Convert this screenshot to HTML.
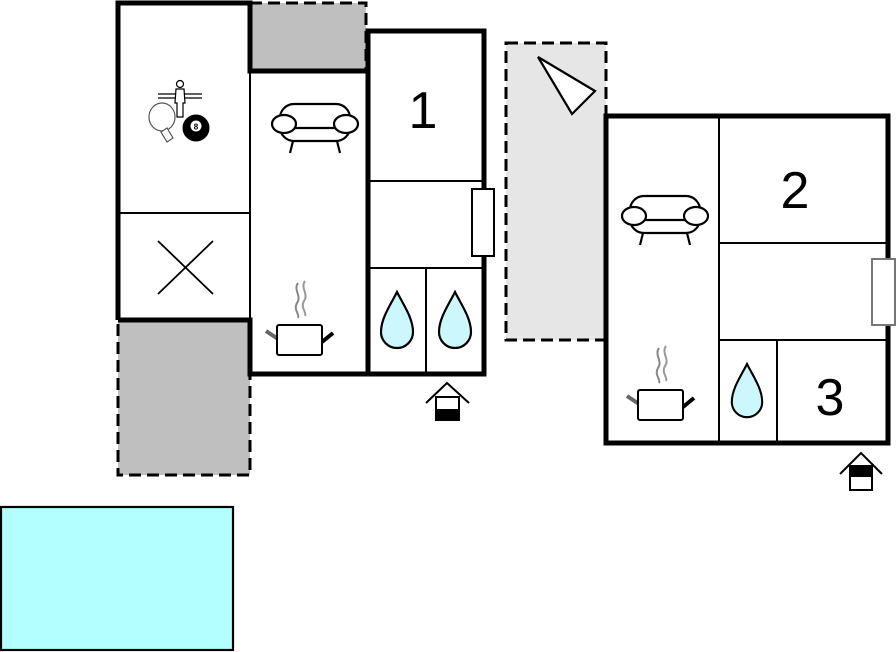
<!DOCTYPE html>
<html><head><meta charset="utf-8"><style>html,body{margin:0;padding:0;background:#fff}svg{display:block}</style></head>
<body>
<svg width="896" height="652" viewBox="0 0 896 652" xmlns="http://www.w3.org/2000/svg" font-family="Liberation Sans, sans-serif">
<defs>
<g id="sofa" fill="#fff" stroke="#000" stroke-width="2.2">
<rect x="280" y="104" width="70" height="37" rx="14"/>
<line x1="292" y1="128" x2="338" y2="128"/>
<ellipse cx="284" cy="124" rx="12" ry="9"/>
<ellipse cx="346" cy="124" rx="12" ry="9"/>
<line x1="293" y1="141" x2="290" y2="153"/>
<line x1="337" y1="141" x2="340" y2="153"/>
</g>
<g id="pot">
<path d="M298,283 C293,290 302,296 297,303 C293,310 300,314 298,318" fill="none" stroke="#888" stroke-width="2"/>
<path d="M305,281 C300,288 309,294 304,301 C300,308 307,312 305,316" fill="none" stroke="#999" stroke-width="2"/>
<line x1="266" y1="331" x2="278" y2="339" stroke="#666" stroke-width="4"/>
<line x1="322" y1="342" x2="333" y2="333" stroke="#000" stroke-width="4"/>
<rect x="277" y="325" width="45" height="30" rx="2" fill="#fff" stroke="#000" stroke-width="2"/>
</g>
<path id="drop" d="M0,0 C-6,12 -16,26 -16,40 A16,16 0 0 0 16,40 C16,26 6,12 0,0 Z" fill="#ccf7fc" stroke="#000" stroke-width="2.2"/>
</defs>

<rect x="250" y="3" width="116" height="68" fill="#bfbfbf" stroke="#000" stroke-width="3" stroke-dasharray="12,6"/>
<rect x="118" y="320" width="132" height="155" fill="#bfbfbf" stroke="#000" stroke-width="3" stroke-dasharray="12,6"/>
<rect x="506" y="43" width="100" height="297" fill="#e6e6e6" stroke="#000" stroke-width="3" stroke-dasharray="12,6"/>
<polygon points="538,57 595,91 572,114" fill="#fff" stroke="#000" stroke-width="2.2"/>

<rect x="1" y="507" width="232" height="143" fill="#b3ffff" stroke="#000" stroke-width="2.2"/>

<g fill="none" stroke="#000">
<rect x="250" y="71" width="118" height="303" fill="#fff" stroke-width="1"/>
<rect x="118" y="3" width="132" height="317" fill="#fff" stroke="none"/>
<path d="M118,320 V3 H250 V71 H368" stroke-width="5"/>
<path d="M118,320 H250 V374 H484 V31 H368 V374" stroke-width="5"/>
<line x1="250" y1="71" x2="250" y2="320" stroke-width="2"/>
<line x1="118" y1="213" x2="250" y2="213" stroke-width="2"/>
<line x1="368" y1="181" x2="484" y2="181" stroke-width="2"/>
<line x1="368" y1="268" x2="484" y2="268" stroke-width="2"/>
<line x1="426" y1="268" x2="426" y2="374" stroke-width="2"/>
<line x1="368" y1="181" x2="368" y2="374" stroke-width="2"/>
<line x1="158" y1="241" x2="213" y2="294" stroke-width="1.8"/>
<line x1="213" y1="241" x2="158" y2="294" stroke-width="1.8"/>
</g>
<rect x="472" y="189" width="22" height="67" fill="#fff" stroke="#000" stroke-width="2"/>
<text x="423" y="128" font-size="52" text-anchor="middle">1</text>

<g stroke="#000" fill="none">
<line x1="158" y1="94" x2="202" y2="94" stroke-width="1.2"/>
<line x1="158" y1="98" x2="202" y2="98" stroke-width="1.2"/>
<circle cx="180" cy="84" r="3.5" fill="#fff" stroke-width="1.2"/>
<path d="M176,89 h8 l1,14 h-2 v14 h-6 v-14 h-2 z" fill="#fff" stroke-width="1.2"/>
<ellipse cx="162" cy="117" rx="13" ry="14" fill="#fff" stroke="#555" stroke-width="1.2"/>
<path d="M167,128 l6,10 -6,4 -6,-10 z" fill="#fff" stroke="#555" stroke-width="1.2"/>
<circle cx="196" cy="128" r="13" fill="#000"/>
<circle cx="196" cy="126" r="5.5" fill="#fff" stroke="none"/>
</g>
<text x="196" y="129.5" font-size="8" font-weight="bold" text-anchor="middle">8</text>

<use href="#sofa"/>
<use href="#pot"/>
<use href="#drop" x="397" y="292"/>
<use href="#drop" x="455" y="292"/>

<polyline points="426,403 447,383 469,403" fill="none" stroke="#000" stroke-width="2"/>
<rect x="436" y="397" width="23" height="23" fill="#fff" stroke="#000" stroke-width="2"/>
<rect x="436" y="409" width="23" height="11" fill="#000"/>

<rect x="606" y="116" width="282" height="327" fill="#fff" stroke="#000" stroke-width="5"/>
<g stroke="#000" stroke-width="2">
<line x1="719" y1="116" x2="719" y2="443"/>
<line x1="719" y1="243" x2="888" y2="243"/>
<line x1="719" y1="340" x2="888" y2="340"/>
<line x1="777" y1="340" x2="777" y2="443"/>
</g>
<rect x="872" y="259" width="23" height="66" fill="#fff" stroke="#777" stroke-width="2"/>
<text x="795" y="208" font-size="52" text-anchor="middle">2</text>
<text x="830" y="415" font-size="52" text-anchor="middle">3</text>
<use href="#sofa" x="350" y="92"/>
<use href="#pot" x="361" y="65"/>
<g transform="translate(747,364) scale(0.95)"><use href="#drop"/></g>

<polyline points="840,474 861,453 882,474" fill="none" stroke="#000" stroke-width="2"/>
<rect x="850" y="466" width="22" height="24" fill="#fff" stroke="#000" stroke-width="2"/>
<rect x="850" y="466" width="22" height="11" fill="#000"/>
</svg>
</body></html>
